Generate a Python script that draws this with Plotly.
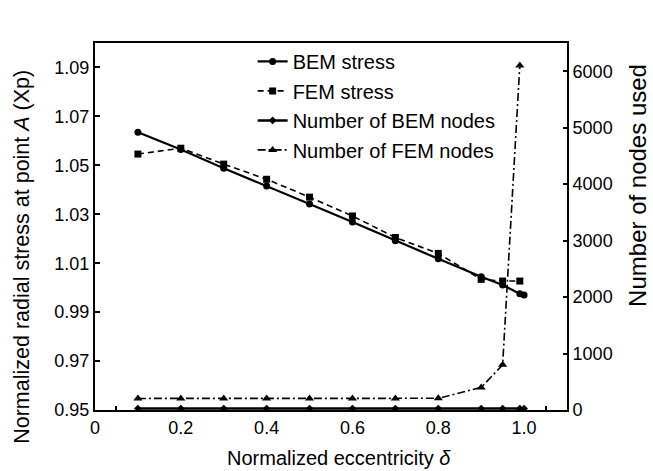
import plotly.graph_objects as go

# Data
bem_x = [0.1, 0.2, 0.3, 0.4, 0.5, 0.6, 0.7, 0.8, 0.9, 0.95, 0.99, 1.0]
bem_stress = [1.0635, 1.0565, 1.0488, 1.0416, 1.0342, 1.0268, 1.0192, 1.0118, 1.0045, 1.0011, 0.9975, 0.9970]
fem_x = [0.1, 0.2, 0.3, 0.4, 0.5, 0.6, 0.7, 0.8, 0.9, 0.95, 0.99]
fem_stress = [1.0546, 1.0570, 1.0505, 1.0443, 1.0370, 1.0293, 1.0205, 1.0140, 1.0034, 1.0027, 1.0027]
bem_nodes_x = [0.1, 0.2, 0.3, 0.4, 0.5, 0.6, 0.7, 0.8, 0.9, 0.95, 0.99, 1.0]
bem_nodes = [25, 25, 25, 25, 25, 25, 25, 25, 25, 25, 25, 25]
fem_nodes_x = [0.1, 0.2, 0.3, 0.4, 0.5, 0.6, 0.7, 0.8, 0.9, 0.95, 0.99]
fem_nodes = [205, 205, 205, 205, 205, 205, 205, 207, 400, 800, 6100]

x_tickvals = [0, 0.05, 0.2, 0.4, 0.6, 0.8, 1.0, 1.05]
x_ticktext = ["0", "", "0.2", "0.4", "0.6", "0.8", "1.0", ""]
y_tickvals = [0.95, 0.97, 0.99, 1.01, 1.03, 1.05, 1.07, 1.09]
y_ticktext = ["0.95", "0.97", "0.99", "1.01", "1.03", "1.05", "1.07", "1.09"]
y2_tickvals = [0, 1000, 2000, 3000, 4000, 5000, 6000]
y2_ticktext = ["0", "1000", "2000", "3000", "4000", "5000", "6000"]

FONT = "Liberation Sans, Arial, sans-serif"

fig = go.Figure()
fig.add_trace(go.Scatter(x=bem_x, y=bem_stress, name="BEM stress", mode="lines+markers",
                         line=dict(color="black", width=2.2),
                         marker=dict(symbol="circle", size=7, color="black"),
                         legendgroup="a"))
fig.add_trace(go.Scatter(x=fem_x, y=fem_stress, name="FEM stress", mode="lines+markers",
                         line=dict(color="black", width=1.6, dash="6px,4px"),
                         marker=dict(symbol="square", size=7, color="black"),
                         legendgroup="b"))
fig.add_trace(go.Scatter(x=bem_nodes_x, y=bem_nodes, name="Number of BEM nodes", mode="lines+markers",
                         line=dict(color="black", width=2.5),
                         marker=dict(symbol="diamond", size=6, color="black"),
                         yaxis="y2", legendgroup="c"))
fig.add_trace(go.Scatter(x=fem_nodes_x, y=fem_nodes, name="Number of FEM nodes", mode="lines+markers",
                         line=dict(color="black", width=1.6, dash="8px,3px,2px,3px"),
                         marker=dict(symbol="triangle-up", size=8, color="black"),
                         yaxis="y2", legendgroup="d"))

fig.update_layout(
    width=653, height=471,
    margin=dict(l=95, r=86, t=43, b=61),
    paper_bgcolor="white", plot_bgcolor="white",
    font=dict(family=FONT, size=18, color="black"),
    showlegend=True,
    legend=dict(x=0.334, y=1.003, xanchor="left", yanchor="top",
                bgcolor="rgba(0,0,0,0)", font=dict(size=20, family=FONT),
                tracegroupgap=0.5),
    xaxis=dict(range=[0, 1.1], tickvals=x_tickvals, ticktext=x_ticktext,
               ticks="inside", ticklen=4, tickwidth=1.5, tickcolor="black",
               showline=True, linecolor="black", linewidth=2, mirror=True,
               showgrid=False, zeroline=False, tickfont=dict(size=18)),
    yaxis=dict(range=[0.95, 1.1], tickvals=y_tickvals, ticktext=y_ticktext,
               ticks="inside", ticklen=5, tickwidth=1.5, tickcolor="black",
               showline=True, linecolor="black", linewidth=2,
               showgrid=False, zeroline=False, tickfont=dict(size=18)),
    yaxis2=dict(range=[0, 6500], tickvals=y2_tickvals, ticktext=y2_ticktext,
                overlaying="y", side="right",
                ticks="inside", ticklen=4, tickwidth=1.5, tickcolor="black",
                showline=True, linecolor="black", linewidth=2,
                showgrid=False, zeroline=False, tickfont=dict(size=18)),
    annotations=[
        dict(text="Normalized radial stress at point <i>A</i> (Xp)", xref="paper", yref="paper",
             x=-0.155, y=0.417, xanchor="center", yanchor="middle", textangle=-90,
             showarrow=False, font=dict(size=21.5, family=FONT)),
        dict(text="Number of nodes used", xref="paper", yref="paper",
             x=1.148, y=0.613, xanchor="center", yanchor="middle", textangle=-90,
             showarrow=False, font=dict(size=24, family=FONT)),
        dict(text="Normalized eccentricity <i>δ</i>", xref="paper", yref="paper",
             x=0.518, y=-0.13, xanchor="center", yanchor="middle",
             showarrow=False, font=dict(size=20, family=FONT)),
    ],
)

fig.write_html("out.html")
